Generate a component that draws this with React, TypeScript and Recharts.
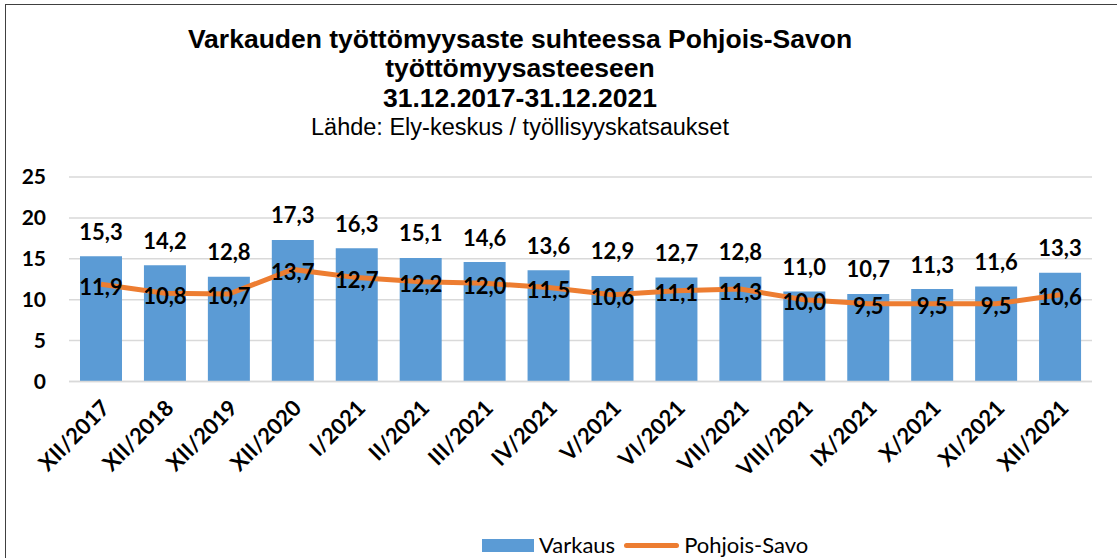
import { ComposedChart, Bar, Line, XAxis, YAxis, CartesianGrid, LabelList } from 'recharts';

const categories = [
  'XII/2017', 'XII/2018', 'XII/2019', 'XII/2020', 'I/2021', 'II/2021', 'III/2021', 'IV/2021',
  'V/2021', 'VI/2021', 'VII/2021', 'VIII/2021', 'IX/2021', 'X/2021', 'XI/2021', 'XII/2021',
];
const varkaus = [15.3, 14.2, 12.8, 17.3, 16.3, 15.1, 14.6, 13.6, 12.9, 12.7, 12.8, 11.0, 10.7, 11.3, 11.6, 13.3];
const pohjoisSavo = [11.9, 10.8, 10.7, 13.7, 12.7, 12.2, 12.0, 11.5, 10.6, 11.1, 11.3, 10.0, 9.5, 9.5, 9.5, 10.6];
const yTicks = [0, 5, 10, 15, 20, 25];

const data = categories.map((name, i) => ({ name, varkaus: varkaus[i], pohjoisSavo: pohjoisSavo[i] }));

const BLUE = '#5B9BD5';
const ORANGE = '#ED7D31';
const LABEL_FONT = 'Lato, "Open Sans", sans-serif';

const fmt = (v: number) => v.toFixed(1).replace('.', ',');

function XTick({ x, y, payload }: any) {
  return (
    <g transform={`translate(${x + 10},${y + 20})`}>
      <text transform="rotate(-45)" textAnchor="end" fontFamily={LABEL_FONT} fontWeight={700} fontSize={22} fill="#000">
        {payload.value}
      </text>
    </g>
  );
}

function BarLabel({ x, y, width, value }: any) {
  return (
    <text x={x + width / 2} y={y - 25} textAnchor="middle" dominantBaseline="central"
      fontFamily={LABEL_FONT} fontWeight={700} fontSize={22} fill="#000">
      {fmt(value)}
    </text>
  );
}

function LineLabel({ x, y, value }: any) {
  return (
    <text x={x} y={y + 2} textAnchor="middle" dominantBaseline="central"
      fontFamily={LABEL_FONT} fontWeight={700} fontSize={22} fill="#000">
      {fmt(value)}
    </text>
  );
}

export default function App() {
  return (
    <div style={{ position: 'absolute', left: 0, top: 0, width: 1117, height: 558, background: '#fff', overflow: 'hidden' }}>
      <div style={{ position: 'absolute', left: 5, top: 4, width: 1200, height: 600, borderTop: '1.5px solid #404040', borderLeft: '1.5px solid #404040' }} />
      <div style={{ position: 'absolute', left: 0, width: 1040, top: 24, textAlign: 'center', fontFamily: '"Liberation Sans", Arial, sans-serif', color: '#000' }}>
        <div style={{ fontWeight: 700, fontSize: 26.5, lineHeight: '30px' }}>Varkauden työttömyysaste suhteessa Pohjois-Savon</div>
        <div style={{ fontWeight: 700, fontSize: 26.5, lineHeight: '29px' }}>työttömyysasteeseen</div>
        <div style={{ fontWeight: 700, fontSize: 26.5, lineHeight: '30px' }}>31.12.2017-31.12.2021</div>
        <div style={{ fontSize: 23.5, lineHeight: '28px' }}>Lähde: Ely-keskus / työllisyyskatsaukset</div>
      </div>
      <div style={{ position: 'absolute', left: 0, top: 0 }}>
        <ComposedChart width={1117} height={558} data={data} margin={{ top: 177, right: 25, left: 9, bottom: 76.5 }} barSize={42}>
          <CartesianGrid vertical={false} stroke="#D9D9D9" strokeWidth={1.5} />
          <XAxis dataKey="name" height={100} interval={0} tickLine={false} axisLine={{ stroke: '#D9D9D9', strokeWidth: 1.5 }} tick={<XTick />} />
          <YAxis width={60} domain={[0, 25]} ticks={yTicks} tickLine={false} axisLine={false} tickMargin={17}
            tick={{ fontFamily: LABEL_FONT, fontWeight: 700, fontSize: 21, fill: '#000' }} />
          <Bar dataKey="varkaus" fill={BLUE} isAnimationActive={false}>
            <LabelList dataKey="varkaus" content={<BarLabel />} />
          </Bar>
          <Line dataKey="pohjoisSavo" type="linear" stroke={ORANGE} strokeWidth={5} dot={false} isAnimationActive={false}>
            <LabelList dataKey="pohjoisSavo" content={<LineLabel />} />
          </Line>
        </ComposedChart>
      </div>
      <div style={{ position: 'absolute', left: 482, top: 532, display: 'flex', alignItems: 'center', fontFamily: LABEL_FONT, fontSize: 22, color: '#000', lineHeight: '26px' }}>
        <span style={{ display: 'inline-block', width: 52, height: 13, background: BLUE, marginRight: 5 }} />
        <span>Varkaus</span>
        <span style={{ display: 'inline-block', width: 55, height: 5, borderRadius: 3, background: ORANGE, marginLeft: 9, marginRight: 5 }} />
        <span>Pohjois-Savo</span>
      </div>
    </div>
  );
}
